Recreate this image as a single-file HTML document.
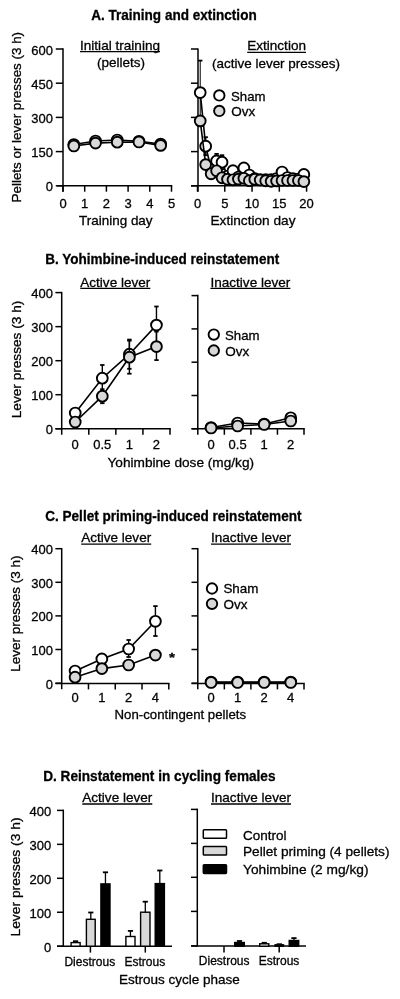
<!DOCTYPE html>
<html><head><meta charset="utf-8"><title>Figure</title>
<style>
html,body{margin:0;padding:0;background:#fff;}
svg{display:block;font-family:"Liberation Sans",sans-serif;fill:#000;}
</style></head><body>
<svg width="400" height="999" viewBox="0 0 400 999">
<defs><filter id="soft" x="0" y="0" width="400" height="999" filterUnits="userSpaceOnUse"><feGaussianBlur stdDeviation="0.6"/></filter></defs>
<rect width="400" height="999" fill="#fff"/>
<g filter="url(#soft)">
<text x="91.20" y="20.2" font-size="14.58" font-weight="bold" textLength="165.50" lengthAdjust="spacingAndGlyphs" stroke="#000" stroke-width="0.3">A. Training and extinction</text>
<text transform="translate(20.6,202.45) rotate(-90)" font-size="13.63" textLength="170.5" lengthAdjust="spacingAndGlyphs" stroke="#000" stroke-width="0.3">Pellets or lever presses (3 h)</text>
<line x1="63.0" y1="48.25" x2="63.0" y2="191.8" stroke="#000" stroke-width="1.5"/>
<line x1="55.8" y1="49.0" x2="63.0" y2="49.0" stroke="#000" stroke-width="1.5"/>
<text x="31.31" y="54.5" font-size="13.65" textLength="21.69" lengthAdjust="spacingAndGlyphs" stroke="#000" stroke-width="0.3">600</text>
<line x1="55.8" y1="83.2" x2="63.0" y2="83.2" stroke="#000" stroke-width="1.5"/>
<text x="31.31" y="88.7" font-size="13.65" textLength="21.69" lengthAdjust="spacingAndGlyphs" stroke="#000" stroke-width="0.3">450</text>
<line x1="55.8" y1="117.4" x2="63.0" y2="117.4" stroke="#000" stroke-width="1.5"/>
<text x="31.31" y="122.9" font-size="13.65" textLength="21.69" lengthAdjust="spacingAndGlyphs" stroke="#000" stroke-width="0.3">300</text>
<line x1="55.8" y1="151.6" x2="63.0" y2="151.6" stroke="#000" stroke-width="1.5"/>
<text x="31.31" y="157.1" font-size="13.65" textLength="21.69" lengthAdjust="spacingAndGlyphs" stroke="#000" stroke-width="0.3">150</text>
<line x1="55.8" y1="185.8" x2="63.0" y2="185.8" stroke="#000" stroke-width="1.5"/>
<text x="45.77" y="191.3" font-size="13.65" textLength="7.23" lengthAdjust="spacingAndGlyphs" stroke="#000" stroke-width="0.3">0</text>
<line x1="57" y1="185.8" x2="172.25" y2="185.8" stroke="#000" stroke-width="1.5"/>
<line x1="63.0" y1="185.8" x2="63.0" y2="191.7" stroke="#000" stroke-width="1.5"/>
<text x="59.38" y="208.4" font-size="13.65" textLength="7.23" lengthAdjust="spacingAndGlyphs" stroke="#000" stroke-width="0.3">0</text>
<line x1="84.7" y1="185.8" x2="84.7" y2="191.7" stroke="#000" stroke-width="1.5"/>
<text x="81.08" y="208.4" font-size="13.65" textLength="7.23" lengthAdjust="spacingAndGlyphs" stroke="#000" stroke-width="0.3">1</text>
<line x1="106.4" y1="185.8" x2="106.4" y2="191.7" stroke="#000" stroke-width="1.5"/>
<text x="102.78" y="208.4" font-size="13.65" textLength="7.23" lengthAdjust="spacingAndGlyphs" stroke="#000" stroke-width="0.3">2</text>
<line x1="128.1" y1="185.8" x2="128.1" y2="191.7" stroke="#000" stroke-width="1.5"/>
<text x="124.48" y="208.4" font-size="13.65" textLength="7.23" lengthAdjust="spacingAndGlyphs" stroke="#000" stroke-width="0.3">3</text>
<line x1="149.8" y1="185.8" x2="149.8" y2="191.7" stroke="#000" stroke-width="1.5"/>
<text x="146.18" y="208.4" font-size="13.65" textLength="7.23" lengthAdjust="spacingAndGlyphs" stroke="#000" stroke-width="0.3">4</text>
<line x1="171.5" y1="185.8" x2="171.5" y2="191.7" stroke="#000" stroke-width="1.5"/>
<text x="167.88" y="208.4" font-size="13.65" textLength="7.23" lengthAdjust="spacingAndGlyphs" stroke="#000" stroke-width="0.3">5</text>
<text x="79.00" y="225.4" font-size="13.63" textLength="73.60" lengthAdjust="spacingAndGlyphs" stroke="#000" stroke-width="0.3">Training day</text>
<text x="80.00" y="49.7" font-size="13.63" textLength="80.00" lengthAdjust="spacingAndGlyphs" stroke="#000" stroke-width="0.3">Initial training</text>
<line x1="80.0" y1="51.6" x2="160.0" y2="51.6" stroke="#000" stroke-width="1.3"/>
<text x="96.99" y="67.2" font-size="13.63" textLength="48.02" lengthAdjust="spacingAndGlyphs" stroke="#000" stroke-width="0.3">(pellets)</text>
<polyline points="73.85,144.50 95.55,141.00 117.25,140.00 138.95,141.30 160.65,144.00" fill="none" stroke="#000" stroke-width="1.6"/>
<circle cx="73.85" cy="144.50" r="5.4" fill="#fff" stroke="#000" stroke-width="1.9"/>
<circle cx="95.55" cy="141.00" r="5.4" fill="#fff" stroke="#000" stroke-width="1.9"/>
<circle cx="117.25" cy="140.00" r="5.4" fill="#fff" stroke="#000" stroke-width="1.9"/>
<circle cx="138.95" cy="141.30" r="5.4" fill="#fff" stroke="#000" stroke-width="1.9"/>
<circle cx="160.65" cy="144.00" r="5.4" fill="#fff" stroke="#000" stroke-width="1.9"/>
<polyline points="73.85,146.00 95.55,143.10 117.25,142.20 138.95,142.00 160.65,145.40" fill="none" stroke="#000" stroke-width="1.6"/>
<circle cx="73.85" cy="146.00" r="5.4" fill="#d8d8d8" stroke="#000" stroke-width="1.9"/>
<circle cx="95.55" cy="143.10" r="5.4" fill="#d8d8d8" stroke="#000" stroke-width="1.9"/>
<circle cx="117.25" cy="142.20" r="5.4" fill="#d8d8d8" stroke="#000" stroke-width="1.9"/>
<circle cx="138.95" cy="142.00" r="5.4" fill="#d8d8d8" stroke="#000" stroke-width="1.9"/>
<circle cx="160.65" cy="145.40" r="5.4" fill="#d8d8d8" stroke="#000" stroke-width="1.9"/>
<line x1="198" y1="48.45" x2="198" y2="191.8" stroke="#000" stroke-width="1.5"/>
<line x1="191" y1="49.0" x2="198" y2="49.0" stroke="#000" stroke-width="1.5"/>
<line x1="191" y1="83.2" x2="198" y2="83.2" stroke="#000" stroke-width="1.5"/>
<line x1="191" y1="117.4" x2="198" y2="117.4" stroke="#000" stroke-width="1.5"/>
<line x1="191" y1="151.6" x2="198" y2="151.6" stroke="#000" stroke-width="1.5"/>
<line x1="191" y1="185.8" x2="198" y2="185.8" stroke="#000" stroke-width="1.5"/>
<line x1="191" y1="185.8" x2="307.35" y2="185.8" stroke="#000" stroke-width="1.5"/>
<line x1="197.5" y1="185.8" x2="197.5" y2="191.7" stroke="#000" stroke-width="1.5"/>
<text x="193.88" y="208.4" font-size="13.65" textLength="7.23" lengthAdjust="spacingAndGlyphs" stroke="#000" stroke-width="0.3">0</text>
<line x1="224.77" y1="185.8" x2="224.77" y2="191.7" stroke="#000" stroke-width="1.5"/>
<text x="221.15" y="208.4" font-size="13.65" textLength="7.23" lengthAdjust="spacingAndGlyphs" stroke="#000" stroke-width="0.3">5</text>
<line x1="252.04" y1="185.8" x2="252.04" y2="191.7" stroke="#000" stroke-width="1.5"/>
<text x="244.81" y="208.4" font-size="13.65" textLength="14.46" lengthAdjust="spacingAndGlyphs" stroke="#000" stroke-width="0.3">10</text>
<line x1="279.31" y1="185.8" x2="279.31" y2="191.7" stroke="#000" stroke-width="1.5"/>
<text x="272.08" y="208.4" font-size="13.65" textLength="14.46" lengthAdjust="spacingAndGlyphs" stroke="#000" stroke-width="0.3">15</text>
<line x1="306.58" y1="185.8" x2="306.58" y2="191.7" stroke="#000" stroke-width="1.5"/>
<text x="299.35" y="208.4" font-size="13.65" textLength="14.46" lengthAdjust="spacingAndGlyphs" stroke="#000" stroke-width="0.3">20</text>
<text x="210.50" y="225.2" font-size="13.63" textLength="85.00" lengthAdjust="spacingAndGlyphs" stroke="#000" stroke-width="0.3">Extinction day</text>
<text x="247.20" y="50.4" font-size="13.63" textLength="58.80" lengthAdjust="spacingAndGlyphs" stroke="#000" stroke-width="0.3">Extinction</text>
<line x1="247.20000000000002" y1="52.3" x2="306.0" y2="52.3" stroke="#000" stroke-width="1.3"/>
<text x="212.00" y="67.6" font-size="13.63" textLength="128.00" lengthAdjust="spacingAndGlyphs" stroke="#000" stroke-width="0.3">(active lever presses)</text>
<line x1="200.2275" y1="60.599999999999994" x2="200.2275" y2="124.6" stroke="#000" stroke-width="1.0"/>
<line x1="198.0275" y1="60.599999999999994" x2="202.42749999999998" y2="60.599999999999994" stroke="#000" stroke-width="1.8"/>
<line x1="198.0275" y1="124.6" x2="202.42749999999998" y2="124.6" stroke="#000" stroke-width="1.8"/>
<line x1="205.6825" y1="137.2" x2="205.6825" y2="155.2" stroke="#000" stroke-width="1.4"/>
<line x1="203.48250000000002" y1="137.2" x2="207.8825" y2="137.2" stroke="#000" stroke-width="1.8"/>
<line x1="203.48250000000002" y1="155.2" x2="207.8825" y2="155.2" stroke="#000" stroke-width="1.8"/>
<line x1="216.5925" y1="153.9" x2="216.5925" y2="167.9" stroke="#000" stroke-width="1.4"/>
<line x1="214.3925" y1="153.9" x2="218.7925" y2="153.9" stroke="#000" stroke-width="1.8"/>
<line x1="214.3925" y1="167.9" x2="218.7925" y2="167.9" stroke="#000" stroke-width="1.8"/>
<line x1="222.0475" y1="155.2" x2="222.0475" y2="169.2" stroke="#000" stroke-width="1.4"/>
<line x1="219.84750000000003" y1="155.2" x2="224.2475" y2="155.2" stroke="#000" stroke-width="1.8"/>
<line x1="219.84750000000003" y1="169.2" x2="224.2475" y2="169.2" stroke="#000" stroke-width="1.8"/>
<polyline points="200.23,92.60 205.68,146.20 211.14,169.00 216.59,160.90 222.05,162.20 227.50,176.00 232.96,170.70 238.41,177.00 243.87,167.90 249.32,175.00 254.78,178.50 260.23,179.50 265.69,179.50 271.14,179.50 276.60,178.50 282.05,172.00 287.51,177.50 292.96,178.50 298.42,179.00 303.87,174.40" fill="none" stroke="#000" stroke-width="1.6"/>
<circle cx="200.23" cy="92.60" r="5.4" fill="#fff" stroke="#000" stroke-width="1.9"/>
<circle cx="205.68" cy="146.20" r="5.4" fill="#fff" stroke="#000" stroke-width="1.9"/>
<circle cx="211.14" cy="169.00" r="5.4" fill="#fff" stroke="#000" stroke-width="1.9"/>
<circle cx="216.59" cy="160.90" r="5.4" fill="#fff" stroke="#000" stroke-width="1.9"/>
<circle cx="222.05" cy="162.20" r="5.4" fill="#fff" stroke="#000" stroke-width="1.9"/>
<circle cx="227.50" cy="176.00" r="5.4" fill="#fff" stroke="#000" stroke-width="1.9"/>
<circle cx="232.96" cy="170.70" r="5.4" fill="#fff" stroke="#000" stroke-width="1.9"/>
<circle cx="238.41" cy="177.00" r="5.4" fill="#fff" stroke="#000" stroke-width="1.9"/>
<circle cx="243.87" cy="167.90" r="5.4" fill="#fff" stroke="#000" stroke-width="1.9"/>
<circle cx="249.32" cy="175.00" r="5.4" fill="#fff" stroke="#000" stroke-width="1.9"/>
<circle cx="254.78" cy="178.50" r="5.4" fill="#fff" stroke="#000" stroke-width="1.9"/>
<circle cx="260.23" cy="179.50" r="5.4" fill="#fff" stroke="#000" stroke-width="1.9"/>
<circle cx="265.69" cy="179.50" r="5.4" fill="#fff" stroke="#000" stroke-width="1.9"/>
<circle cx="271.14" cy="179.50" r="5.4" fill="#fff" stroke="#000" stroke-width="1.9"/>
<circle cx="276.60" cy="178.50" r="5.4" fill="#fff" stroke="#000" stroke-width="1.9"/>
<circle cx="282.05" cy="172.00" r="5.4" fill="#fff" stroke="#000" stroke-width="1.9"/>
<circle cx="287.51" cy="177.50" r="5.4" fill="#fff" stroke="#000" stroke-width="1.9"/>
<circle cx="292.96" cy="178.50" r="5.4" fill="#fff" stroke="#000" stroke-width="1.9"/>
<circle cx="298.42" cy="179.00" r="5.4" fill="#fff" stroke="#000" stroke-width="1.9"/>
<circle cx="303.87" cy="174.40" r="5.4" fill="#fff" stroke="#000" stroke-width="1.9"/>
<polyline points="200.23,120.90 205.68,164.60 211.14,173.80 216.59,170.80 222.05,177.80 227.50,179.30 232.96,179.80 238.41,179.10 243.87,178.30 249.32,180.70 254.78,179.30 260.23,180.00 265.69,180.80 271.14,181.30 276.60,180.90 282.05,180.50 287.51,180.50 292.96,180.50 298.42,180.50 303.87,181.60" fill="none" stroke="#000" stroke-width="1.6"/>
<circle cx="200.23" cy="120.90" r="5.4" fill="#d8d8d8" stroke="#000" stroke-width="1.9"/>
<circle cx="205.68" cy="164.60" r="5.4" fill="#d8d8d8" stroke="#000" stroke-width="1.9"/>
<circle cx="211.14" cy="173.80" r="5.4" fill="#d8d8d8" stroke="#000" stroke-width="1.9"/>
<circle cx="216.59" cy="170.80" r="5.4" fill="#d8d8d8" stroke="#000" stroke-width="1.9"/>
<circle cx="222.05" cy="177.80" r="5.4" fill="#d8d8d8" stroke="#000" stroke-width="1.9"/>
<circle cx="227.50" cy="179.30" r="5.4" fill="#d8d8d8" stroke="#000" stroke-width="1.9"/>
<circle cx="232.96" cy="179.80" r="5.4" fill="#d8d8d8" stroke="#000" stroke-width="1.9"/>
<circle cx="238.41" cy="179.10" r="5.4" fill="#d8d8d8" stroke="#000" stroke-width="1.9"/>
<circle cx="243.87" cy="178.30" r="5.4" fill="#d8d8d8" stroke="#000" stroke-width="1.9"/>
<circle cx="249.32" cy="180.70" r="5.4" fill="#d8d8d8" stroke="#000" stroke-width="1.9"/>
<circle cx="254.78" cy="179.30" r="5.4" fill="#d8d8d8" stroke="#000" stroke-width="1.9"/>
<circle cx="260.23" cy="180.00" r="5.4" fill="#d8d8d8" stroke="#000" stroke-width="1.9"/>
<circle cx="265.69" cy="180.80" r="5.4" fill="#d8d8d8" stroke="#000" stroke-width="1.9"/>
<circle cx="271.14" cy="181.30" r="5.4" fill="#d8d8d8" stroke="#000" stroke-width="1.9"/>
<circle cx="276.60" cy="180.90" r="5.4" fill="#d8d8d8" stroke="#000" stroke-width="1.9"/>
<circle cx="282.05" cy="180.50" r="5.4" fill="#d8d8d8" stroke="#000" stroke-width="1.9"/>
<circle cx="287.51" cy="180.50" r="5.4" fill="#d8d8d8" stroke="#000" stroke-width="1.9"/>
<circle cx="292.96" cy="180.50" r="5.4" fill="#d8d8d8" stroke="#000" stroke-width="1.9"/>
<circle cx="298.42" cy="180.50" r="5.4" fill="#d8d8d8" stroke="#000" stroke-width="1.9"/>
<circle cx="303.87" cy="181.60" r="5.4" fill="#d8d8d8" stroke="#000" stroke-width="1.9"/>
<circle cx="219.30" cy="95.40" r="5.2" fill="#fff" stroke="#000" stroke-width="1.9"/>
<text x="231.00" y="100.6" font-size="13.63" textLength="34.50" lengthAdjust="spacingAndGlyphs" stroke="#000" stroke-width="0.3">Sham</text>
<circle cx="219.30" cy="110.90" r="5.2" fill="#d8d8d8" stroke="#000" stroke-width="1.9"/>
<text x="231.30" y="116" font-size="13.63" textLength="24.00" lengthAdjust="spacingAndGlyphs" stroke="#000" stroke-width="0.3">Ovx</text>
<text x="45.20" y="264.4" font-size="14.58" font-weight="bold" textLength="234.00" lengthAdjust="spacingAndGlyphs" stroke="#000" stroke-width="0.3">B. Yohimbine-induced reinstatement</text>
<text transform="translate(21.2,418.3) rotate(-90)" font-size="13.63" textLength="117.6" lengthAdjust="spacingAndGlyphs" stroke="#000" stroke-width="0.3">Lever presses (3 h)</text>
<line x1="61.7" y1="291.85" x2="61.7" y2="434.75" stroke="#000" stroke-width="1.5"/>
<line x1="55.400000000000006" y1="292.6" x2="61.7" y2="292.6" stroke="#000" stroke-width="1.5"/>
<text x="31.21" y="298.1" font-size="13.65" textLength="21.69" lengthAdjust="spacingAndGlyphs" stroke="#000" stroke-width="0.3">400</text>
<line x1="55.400000000000006" y1="326.65" x2="61.7" y2="326.65" stroke="#000" stroke-width="1.5"/>
<text x="31.21" y="332.15" font-size="13.65" textLength="21.69" lengthAdjust="spacingAndGlyphs" stroke="#000" stroke-width="0.3">300</text>
<line x1="55.400000000000006" y1="360.7" x2="61.7" y2="360.7" stroke="#000" stroke-width="1.5"/>
<text x="31.21" y="366.2" font-size="13.65" textLength="21.69" lengthAdjust="spacingAndGlyphs" stroke="#000" stroke-width="0.3">200</text>
<line x1="55.400000000000006" y1="394.7" x2="61.7" y2="394.7" stroke="#000" stroke-width="1.5"/>
<text x="31.21" y="400.2" font-size="13.65" textLength="21.69" lengthAdjust="spacingAndGlyphs" stroke="#000" stroke-width="0.3">100</text>
<line x1="55.400000000000006" y1="428.75" x2="61.7" y2="428.75" stroke="#000" stroke-width="1.5"/>
<text x="45.67" y="434.25" font-size="13.65" textLength="7.23" lengthAdjust="spacingAndGlyphs" stroke="#000" stroke-width="0.3">0</text>
<line x1="55.400000000000006" y1="428.75" x2="170.75" y2="428.75" stroke="#000" stroke-width="1.5"/>
<line x1="88.775" y1="428.75" x2="88.775" y2="434.75" stroke="#000" stroke-width="1.5"/>
<line x1="115.85" y1="428.75" x2="115.85" y2="434.75" stroke="#000" stroke-width="1.5"/>
<line x1="142.925" y1="428.75" x2="142.925" y2="434.75" stroke="#000" stroke-width="1.5"/>
<line x1="170.0" y1="428.75" x2="170.0" y2="434.75" stroke="#000" stroke-width="1.5"/>
<text x="71.62" y="449.2" font-size="13.65" textLength="7.23" lengthAdjust="spacingAndGlyphs" stroke="#000" stroke-width="0.3">0</text>
<text x="93.28" y="449.2" font-size="13.65" textLength="18.07" lengthAdjust="spacingAndGlyphs" stroke="#000" stroke-width="0.3">0.5</text>
<text x="125.77" y="449.2" font-size="13.65" textLength="7.23" lengthAdjust="spacingAndGlyphs" stroke="#000" stroke-width="0.3">1</text>
<text x="152.85" y="449.2" font-size="13.65" textLength="7.23" lengthAdjust="spacingAndGlyphs" stroke="#000" stroke-width="0.3">2</text>
<text x="107.50" y="467.1" font-size="13.63" textLength="146.50" lengthAdjust="spacingAndGlyphs" stroke="#000" stroke-width="0.3">Yohimbine dose (mg/kg)</text>
<text x="80.30" y="286.5" font-size="13.63" textLength="70.00" lengthAdjust="spacingAndGlyphs" stroke="#000" stroke-width="0.3">Active lever</text>
<line x1="80.3" y1="288.4" x2="150.3" y2="288.4" stroke="#000" stroke-width="1.3"/>
<text x="210.40" y="286.5" font-size="13.63" textLength="80.00" lengthAdjust="spacingAndGlyphs" stroke="#000" stroke-width="0.3">Inactive lever</text>
<line x1="210.4" y1="288.4" x2="290.4" y2="288.4" stroke="#000" stroke-width="1.3"/>
<line x1="102.3125" y1="365.0" x2="102.3125" y2="391.4" stroke="#000" stroke-width="1.4"/>
<line x1="100.1125" y1="365.0" x2="104.5125" y2="365.0" stroke="#000" stroke-width="1.8"/>
<line x1="100.1125" y1="391.4" x2="104.5125" y2="391.4" stroke="#000" stroke-width="1.8"/>
<line x1="129.3875" y1="339.59999999999997" x2="129.3875" y2="368.8" stroke="#000" stroke-width="1.4"/>
<line x1="127.18749999999999" y1="339.59999999999997" x2="131.58749999999998" y2="339.59999999999997" stroke="#000" stroke-width="1.8"/>
<line x1="127.18749999999999" y1="368.8" x2="131.58749999999998" y2="368.8" stroke="#000" stroke-width="1.8"/>
<line x1="156.4625" y1="306.5" x2="156.4625" y2="343.70000000000005" stroke="#000" stroke-width="1.4"/>
<line x1="154.26250000000002" y1="306.5" x2="158.6625" y2="306.5" stroke="#000" stroke-width="1.8"/>
<line x1="154.26250000000002" y1="343.70000000000005" x2="158.6625" y2="343.70000000000005" stroke="#000" stroke-width="1.8"/>
<polyline points="75.24,413.00 102.31,378.20 129.39,354.20 156.46,325.10" fill="none" stroke="#000" stroke-width="1.6"/>
<circle cx="75.24" cy="413.00" r="5.4" fill="#fff" stroke="#000" stroke-width="1.9"/>
<circle cx="102.31" cy="378.20" r="5.4" fill="#fff" stroke="#000" stroke-width="1.9"/>
<circle cx="129.39" cy="354.20" r="5.4" fill="#fff" stroke="#000" stroke-width="1.9"/>
<circle cx="156.46" cy="325.10" r="5.4" fill="#fff" stroke="#000" stroke-width="1.9"/>
<line x1="102.3125" y1="389.2" x2="102.3125" y2="403.2" stroke="#000" stroke-width="1.4"/>
<line x1="100.1125" y1="389.2" x2="104.5125" y2="389.2" stroke="#000" stroke-width="1.8"/>
<line x1="100.1125" y1="403.2" x2="104.5125" y2="403.2" stroke="#000" stroke-width="1.8"/>
<line x1="129.3875" y1="340.7" x2="129.3875" y2="373.7" stroke="#000" stroke-width="1.4"/>
<line x1="127.18749999999999" y1="340.7" x2="131.58749999999998" y2="340.7" stroke="#000" stroke-width="1.8"/>
<line x1="127.18749999999999" y1="373.7" x2="131.58749999999998" y2="373.7" stroke="#000" stroke-width="1.8"/>
<line x1="156.4625" y1="331.6" x2="156.4625" y2="360.1" stroke="#000" stroke-width="1.4"/>
<line x1="154.26250000000002" y1="331.6" x2="158.6625" y2="331.6" stroke="#000" stroke-width="1.8"/>
<line x1="154.26250000000002" y1="360.1" x2="158.6625" y2="360.1" stroke="#000" stroke-width="1.8"/>
<polyline points="75.24,422.00 102.31,396.20 129.39,357.20 156.46,346.60" fill="none" stroke="#000" stroke-width="1.6"/>
<circle cx="75.24" cy="422.00" r="5.4" fill="#d8d8d8" stroke="#000" stroke-width="1.9"/>
<circle cx="102.31" cy="396.20" r="5.4" fill="#d8d8d8" stroke="#000" stroke-width="1.9"/>
<circle cx="129.39" cy="357.20" r="5.4" fill="#d8d8d8" stroke="#000" stroke-width="1.9"/>
<circle cx="156.46" cy="346.60" r="5.4" fill="#d8d8d8" stroke="#000" stroke-width="1.9"/>
<line x1="197.8" y1="294.85" x2="197.8" y2="434.75" stroke="#000" stroke-width="1.5"/>
<line x1="191.5" y1="295.6" x2="197.8" y2="295.6" stroke="#000" stroke-width="1.5"/>
<line x1="191.5" y1="328.9" x2="197.8" y2="328.9" stroke="#000" stroke-width="1.5"/>
<line x1="191.5" y1="362.2" x2="197.8" y2="362.2" stroke="#000" stroke-width="1.5"/>
<line x1="191.5" y1="395.5" x2="197.8" y2="395.5" stroke="#000" stroke-width="1.5"/>
<line x1="191.5" y1="428.75" x2="197.8" y2="428.75" stroke="#000" stroke-width="1.5"/>
<line x1="191.5" y1="428.75" x2="304.75" y2="428.75" stroke="#000" stroke-width="1.5"/>
<line x1="224.35000000000002" y1="428.75" x2="224.35000000000002" y2="434.75" stroke="#000" stroke-width="1.5"/>
<line x1="250.9" y1="428.75" x2="250.9" y2="434.75" stroke="#000" stroke-width="1.5"/>
<line x1="277.45" y1="428.75" x2="277.45" y2="434.75" stroke="#000" stroke-width="1.5"/>
<line x1="304.0" y1="428.75" x2="304.0" y2="434.75" stroke="#000" stroke-width="1.5"/>
<text x="207.46" y="449.2" font-size="13.65" textLength="7.23" lengthAdjust="spacingAndGlyphs" stroke="#000" stroke-width="0.3">0</text>
<text x="228.59" y="449.2" font-size="13.65" textLength="18.07" lengthAdjust="spacingAndGlyphs" stroke="#000" stroke-width="0.3">0.5</text>
<text x="260.56" y="449.2" font-size="13.65" textLength="7.23" lengthAdjust="spacingAndGlyphs" stroke="#000" stroke-width="0.3">1</text>
<text x="287.11" y="449.2" font-size="13.65" textLength="7.23" lengthAdjust="spacingAndGlyphs" stroke="#000" stroke-width="0.3">2</text>
<polyline points="211.08,427.50 237.62,423.00 264.18,424.00 290.73,417.80" fill="none" stroke="#000" stroke-width="1.6"/>
<circle cx="211.08" cy="427.50" r="5.4" fill="#fff" stroke="#000" stroke-width="1.9"/>
<circle cx="237.62" cy="423.00" r="5.4" fill="#fff" stroke="#000" stroke-width="1.9"/>
<circle cx="264.18" cy="424.00" r="5.4" fill="#fff" stroke="#000" stroke-width="1.9"/>
<circle cx="290.73" cy="417.80" r="5.4" fill="#fff" stroke="#000" stroke-width="1.9"/>
<polyline points="211.08,428.00 237.62,426.00 264.18,424.50 290.73,421.00" fill="none" stroke="#000" stroke-width="1.6"/>
<circle cx="211.08" cy="428.00" r="5.4" fill="#d8d8d8" stroke="#000" stroke-width="1.9"/>
<circle cx="237.62" cy="426.00" r="5.4" fill="#d8d8d8" stroke="#000" stroke-width="1.9"/>
<circle cx="264.18" cy="424.50" r="5.4" fill="#d8d8d8" stroke="#000" stroke-width="1.9"/>
<circle cx="290.73" cy="421.00" r="5.4" fill="#d8d8d8" stroke="#000" stroke-width="1.9"/>
<circle cx="213.80" cy="334.60" r="5.2" fill="#fff" stroke="#000" stroke-width="1.9"/>
<text x="225.00" y="340.2" font-size="13.63" textLength="34.50" lengthAdjust="spacingAndGlyphs" stroke="#000" stroke-width="0.3">Sham</text>
<circle cx="213.80" cy="350.50" r="5.2" fill="#d8d8d8" stroke="#000" stroke-width="1.9"/>
<text x="225.20" y="356" font-size="13.63" textLength="24.00" lengthAdjust="spacingAndGlyphs" stroke="#000" stroke-width="0.3">Ovx</text>
<text x="45.20" y="520.8" font-size="14.58" font-weight="bold" textLength="256.30" lengthAdjust="spacingAndGlyphs" stroke="#000" stroke-width="0.3">C. Pellet priming-induced reinstatement</text>
<text transform="translate(20.0,671.8000000000001) rotate(-90)" font-size="13.63" textLength="116.4" lengthAdjust="spacingAndGlyphs" stroke="#000" stroke-width="0.3">Lever presses (3 h)</text>
<line x1="61.7" y1="547.95" x2="61.7" y2="689.2" stroke="#000" stroke-width="1.5"/>
<line x1="55.400000000000006" y1="548.7" x2="61.7" y2="548.7" stroke="#000" stroke-width="1.5"/>
<text x="31.21" y="554.2" font-size="13.65" textLength="21.69" lengthAdjust="spacingAndGlyphs" stroke="#000" stroke-width="0.3">400</text>
<line x1="55.400000000000006" y1="582.3" x2="61.7" y2="582.3" stroke="#000" stroke-width="1.5"/>
<text x="31.21" y="587.8" font-size="13.65" textLength="21.69" lengthAdjust="spacingAndGlyphs" stroke="#000" stroke-width="0.3">300</text>
<line x1="55.400000000000006" y1="615.9" x2="61.7" y2="615.9" stroke="#000" stroke-width="1.5"/>
<text x="31.21" y="621.4" font-size="13.65" textLength="21.69" lengthAdjust="spacingAndGlyphs" stroke="#000" stroke-width="0.3">200</text>
<line x1="55.400000000000006" y1="649.5" x2="61.7" y2="649.5" stroke="#000" stroke-width="1.5"/>
<text x="31.21" y="655.0" font-size="13.65" textLength="21.69" lengthAdjust="spacingAndGlyphs" stroke="#000" stroke-width="0.3">100</text>
<line x1="55.400000000000006" y1="683.2" x2="61.7" y2="683.2" stroke="#000" stroke-width="1.5"/>
<text x="45.67" y="688.7" font-size="13.65" textLength="7.23" lengthAdjust="spacingAndGlyphs" stroke="#000" stroke-width="0.3">0</text>
<line x1="55.400000000000006" y1="683.4" x2="169.55" y2="683.4" stroke="#000" stroke-width="1.5"/>
<line x1="88.47500000000001" y1="683.4" x2="88.47500000000001" y2="689.4" stroke="#000" stroke-width="1.5"/>
<line x1="115.25" y1="683.4" x2="115.25" y2="689.4" stroke="#000" stroke-width="1.5"/>
<line x1="142.025" y1="683.4" x2="142.025" y2="689.4" stroke="#000" stroke-width="1.5"/>
<line x1="168.8" y1="683.4" x2="168.8" y2="689.4" stroke="#000" stroke-width="1.5"/>
<text x="71.47" y="701.9" font-size="13.65" textLength="7.23" lengthAdjust="spacingAndGlyphs" stroke="#000" stroke-width="0.3">0</text>
<text x="98.25" y="701.9" font-size="13.65" textLength="7.23" lengthAdjust="spacingAndGlyphs" stroke="#000" stroke-width="0.3">1</text>
<text x="125.02" y="701.9" font-size="13.65" textLength="7.23" lengthAdjust="spacingAndGlyphs" stroke="#000" stroke-width="0.3">2</text>
<text x="151.80" y="701.9" font-size="13.65" textLength="7.23" lengthAdjust="spacingAndGlyphs" stroke="#000" stroke-width="0.3">4</text>
<text x="114.55" y="718.5" font-size="13.63" textLength="131.50" lengthAdjust="spacingAndGlyphs" stroke="#000" stroke-width="0.3">Non-contingent pellets</text>
<text x="81.20" y="542.2" font-size="13.63" textLength="70.00" lengthAdjust="spacingAndGlyphs" stroke="#000" stroke-width="0.3">Active lever</text>
<line x1="81.2" y1="544.1" x2="151.2" y2="544.1" stroke="#000" stroke-width="1.3"/>
<text x="211.00" y="542.2" font-size="13.63" textLength="80.00" lengthAdjust="spacingAndGlyphs" stroke="#000" stroke-width="0.3">Inactive lever</text>
<line x1="211.0" y1="544.1" x2="291.0" y2="544.1" stroke="#000" stroke-width="1.3"/>
<line x1="128.6375" y1="640" x2="128.6375" y2="657" stroke="#000" stroke-width="1.4"/>
<line x1="126.43749999999999" y1="640" x2="130.83749999999998" y2="640" stroke="#000" stroke-width="1.8"/>
<line x1="126.43749999999999" y1="657" x2="130.83749999999998" y2="657" stroke="#000" stroke-width="1.8"/>
<line x1="155.41250000000002" y1="606.0999999999999" x2="155.41250000000002" y2="636.0" stroke="#000" stroke-width="1.4"/>
<line x1="153.21250000000003" y1="606.0999999999999" x2="157.6125" y2="606.0999999999999" stroke="#000" stroke-width="1.8"/>
<line x1="153.21250000000003" y1="636.0" x2="157.6125" y2="636.0" stroke="#000" stroke-width="1.8"/>
<polyline points="75.09,671.00 101.86,658.90 128.64,649.00 155.41,621.30" fill="none" stroke="#000" stroke-width="1.6"/>
<circle cx="75.09" cy="671.00" r="5.4" fill="#fff" stroke="#000" stroke-width="1.9"/>
<circle cx="101.86" cy="658.90" r="5.4" fill="#fff" stroke="#000" stroke-width="1.9"/>
<circle cx="128.64" cy="649.00" r="5.4" fill="#fff" stroke="#000" stroke-width="1.9"/>
<circle cx="155.41" cy="621.30" r="5.4" fill="#fff" stroke="#000" stroke-width="1.9"/>
<polyline points="75.09,677.20 101.86,668.60 128.64,665.00 155.41,655.10" fill="none" stroke="#000" stroke-width="1.6"/>
<circle cx="75.09" cy="677.20" r="5.4" fill="#d8d8d8" stroke="#000" stroke-width="1.9"/>
<circle cx="101.86" cy="668.60" r="5.4" fill="#d8d8d8" stroke="#000" stroke-width="1.9"/>
<circle cx="128.64" cy="665.00" r="5.4" fill="#d8d8d8" stroke="#000" stroke-width="1.9"/>
<circle cx="155.41" cy="655.10" r="5.4" fill="#d8d8d8" stroke="#000" stroke-width="1.9"/>
<text x="169.00" y="662.0" font-size="13.30" font-weight="bold" textLength="6.00" lengthAdjust="spacingAndGlyphs" stroke="#000" stroke-width="0.3">*</text>
<line x1="197.8" y1="547.95" x2="197.8" y2="689.2" stroke="#000" stroke-width="1.5"/>
<line x1="191.5" y1="548.7" x2="197.8" y2="548.7" stroke="#000" stroke-width="1.5"/>
<line x1="191.5" y1="582.3" x2="197.8" y2="582.3" stroke="#000" stroke-width="1.5"/>
<line x1="191.5" y1="615.9" x2="197.8" y2="615.9" stroke="#000" stroke-width="1.5"/>
<line x1="191.5" y1="649.5" x2="197.8" y2="649.5" stroke="#000" stroke-width="1.5"/>
<line x1="191.5" y1="683.2" x2="197.8" y2="683.2" stroke="#000" stroke-width="1.5"/>
<line x1="191.5" y1="683.4" x2="304.75" y2="683.4" stroke="#000" stroke-width="1.5"/>
<line x1="224.35000000000002" y1="683.4" x2="224.35000000000002" y2="689.4" stroke="#000" stroke-width="1.5"/>
<line x1="250.9" y1="683.4" x2="250.9" y2="689.4" stroke="#000" stroke-width="1.5"/>
<line x1="277.45" y1="683.4" x2="277.45" y2="689.4" stroke="#000" stroke-width="1.5"/>
<line x1="304.0" y1="683.4" x2="304.0" y2="689.4" stroke="#000" stroke-width="1.5"/>
<text x="207.46" y="701.9" font-size="13.65" textLength="7.23" lengthAdjust="spacingAndGlyphs" stroke="#000" stroke-width="0.3">0</text>
<text x="234.01" y="701.9" font-size="13.65" textLength="7.23" lengthAdjust="spacingAndGlyphs" stroke="#000" stroke-width="0.3">1</text>
<text x="260.56" y="701.9" font-size="13.65" textLength="7.23" lengthAdjust="spacingAndGlyphs" stroke="#000" stroke-width="0.3">2</text>
<text x="287.11" y="701.9" font-size="13.65" textLength="7.23" lengthAdjust="spacingAndGlyphs" stroke="#000" stroke-width="0.3">4</text>
<polyline points="211.08,682.00 237.62,682.00 264.18,682.00 290.73,682.00" fill="none" stroke="#000" stroke-width="1.6"/>
<circle cx="211.08" cy="682.00" r="5.4" fill="#fff" stroke="#000" stroke-width="1.9"/>
<circle cx="237.62" cy="682.00" r="5.4" fill="#fff" stroke="#000" stroke-width="1.9"/>
<circle cx="264.18" cy="682.00" r="5.4" fill="#fff" stroke="#000" stroke-width="1.9"/>
<circle cx="290.73" cy="682.00" r="5.4" fill="#fff" stroke="#000" stroke-width="1.9"/>
<polyline points="211.08,682.50 237.62,682.50 264.18,682.50 290.73,682.50" fill="none" stroke="#000" stroke-width="1.6"/>
<circle cx="211.08" cy="682.50" r="5.4" fill="#d8d8d8" stroke="#000" stroke-width="1.9"/>
<circle cx="237.62" cy="682.50" r="5.4" fill="#d8d8d8" stroke="#000" stroke-width="1.9"/>
<circle cx="264.18" cy="682.50" r="5.4" fill="#d8d8d8" stroke="#000" stroke-width="1.9"/>
<circle cx="290.73" cy="682.50" r="5.4" fill="#d8d8d8" stroke="#000" stroke-width="1.9"/>
<circle cx="212.00" cy="588.50" r="5.2" fill="#fff" stroke="#000" stroke-width="1.9"/>
<text x="223.40" y="593.3" font-size="13.63" textLength="35.00" lengthAdjust="spacingAndGlyphs" stroke="#000" stroke-width="0.3">Sham</text>
<circle cx="212.00" cy="603.80" r="5.2" fill="#d8d8d8" stroke="#000" stroke-width="1.9"/>
<text x="223.50" y="608.5" font-size="13.63" textLength="24.00" lengthAdjust="spacingAndGlyphs" stroke="#000" stroke-width="0.3">Ovx</text>
<text x="43.20" y="780.8" font-size="14.58" font-weight="bold" textLength="232.30" lengthAdjust="spacingAndGlyphs" stroke="#000" stroke-width="0.3">D. Reinstatement in cycling females</text>
<text transform="translate(20.0,936.5) rotate(-90)" font-size="13.63" textLength="119" lengthAdjust="spacingAndGlyphs" stroke="#000" stroke-width="0.3">Lever presses (3 h)</text>
<line x1="63.3" y1="809.65" x2="63.3" y2="946.95" stroke="#000" stroke-width="1.5"/>
<line x1="57.0" y1="810.4" x2="63.3" y2="810.4" stroke="#000" stroke-width="1.5"/>
<text x="29.61" y="815.9" font-size="13.65" textLength="21.69" lengthAdjust="spacingAndGlyphs" stroke="#000" stroke-width="0.3">400</text>
<line x1="57.0" y1="844.35" x2="63.3" y2="844.35" stroke="#000" stroke-width="1.5"/>
<text x="29.61" y="849.85" font-size="13.65" textLength="21.69" lengthAdjust="spacingAndGlyphs" stroke="#000" stroke-width="0.3">300</text>
<line x1="57.0" y1="878.3" x2="63.3" y2="878.3" stroke="#000" stroke-width="1.5"/>
<text x="29.61" y="883.8" font-size="13.65" textLength="21.69" lengthAdjust="spacingAndGlyphs" stroke="#000" stroke-width="0.3">200</text>
<line x1="57.0" y1="912.25" x2="63.3" y2="912.25" stroke="#000" stroke-width="1.5"/>
<text x="29.61" y="917.75" font-size="13.65" textLength="21.69" lengthAdjust="spacingAndGlyphs" stroke="#000" stroke-width="0.3">100</text>
<line x1="57.0" y1="946.2" x2="63.3" y2="946.2" stroke="#000" stroke-width="1.5"/>
<text x="44.07" y="951.7" font-size="13.65" textLength="7.23" lengthAdjust="spacingAndGlyphs" stroke="#000" stroke-width="0.3">0</text>
<line x1="57" y1="946.2" x2="172" y2="946.2" stroke="#000" stroke-width="1.5"/>
<line x1="90.4" y1="946.2" x2="90.4" y2="952.6" stroke="#000" stroke-width="1.5"/>
<line x1="145.3" y1="946.2" x2="145.3" y2="952.6" stroke="#000" stroke-width="1.5"/>
<text x="64.46" y="965.7" font-size="12.24" textLength="50.69" lengthAdjust="spacingAndGlyphs" stroke="#000" stroke-width="0.3">Diestrous</text>
<text x="124.46" y="965.7" font-size="12.24" textLength="40.68" lengthAdjust="spacingAndGlyphs" stroke="#000" stroke-width="0.3">Estrous</text>
<text x="118.99" y="984.1" font-size="13.63" textLength="120.81" lengthAdjust="spacingAndGlyphs" stroke="#000" stroke-width="0.3">Estrous cycle phase</text>
<text x="82.30" y="802.1" font-size="13.63" textLength="70.00" lengthAdjust="spacingAndGlyphs" stroke="#000" stroke-width="0.3">Active lever</text>
<line x1="82.3" y1="804.0" x2="152.3" y2="804.0" stroke="#000" stroke-width="1.3"/>
<text x="211.00" y="802.1" font-size="13.63" textLength="80.00" lengthAdjust="spacingAndGlyphs" stroke="#000" stroke-width="0.3">Inactive lever</text>
<line x1="211.0" y1="804.0" x2="291.0" y2="804.0" stroke="#000" stroke-width="1.3"/>
<line x1="75.6" y1="941.2" x2="75.6" y2="942.6" stroke="#000" stroke-width="1.3"/>
<line x1="73.0" y1="941.2" x2="78.19999999999999" y2="941.2" stroke="#000" stroke-width="1.8"/>
<rect x="71.10" y="942.6" width="9.00" height="3.60" fill="#fff" stroke="#000" stroke-width="1.4"/>
<line x1="90.80000000000001" y1="912.5" x2="90.80000000000001" y2="919.3" stroke="#000" stroke-width="1.3"/>
<line x1="88.20000000000002" y1="912.5" x2="93.4" y2="912.5" stroke="#000" stroke-width="1.8"/>
<rect x="86.40" y="919.3" width="8.80" height="26.90" fill="#d8d8d8" stroke="#000" stroke-width="1.4"/>
<line x1="105.45" y1="872.3" x2="105.45" y2="883.9" stroke="#000" stroke-width="1.3"/>
<line x1="102.85000000000001" y1="872.3" x2="108.05" y2="872.3" stroke="#000" stroke-width="1.8"/>
<rect x="100.90" y="883.9" width="9.10" height="62.30" fill="#000" stroke="#000" stroke-width="1.4"/>
<line x1="130.45" y1="930.9" x2="130.45" y2="936.5" stroke="#000" stroke-width="1.3"/>
<line x1="127.85" y1="930.9" x2="133.04999999999998" y2="930.9" stroke="#000" stroke-width="1.8"/>
<rect x="125.90" y="936.5" width="9.10" height="9.70" fill="#fff" stroke="#000" stroke-width="1.4"/>
<line x1="145.3" y1="901.7" x2="145.3" y2="912.2" stroke="#000" stroke-width="1.3"/>
<line x1="142.70000000000002" y1="901.7" x2="147.9" y2="901.7" stroke="#000" stroke-width="1.8"/>
<rect x="140.60" y="912.2" width="9.40" height="34.00" fill="#d8d8d8" stroke="#000" stroke-width="1.4"/>
<line x1="159.8" y1="870.5" x2="159.8" y2="883.6" stroke="#000" stroke-width="1.3"/>
<line x1="157.20000000000002" y1="870.5" x2="162.4" y2="870.5" stroke="#000" stroke-width="1.8"/>
<rect x="155.20" y="883.6" width="9.20" height="62.60" fill="#000" stroke="#000" stroke-width="1.4"/>
<line x1="197.3" y1="808.65" x2="197.3" y2="946.65" stroke="#000" stroke-width="1.5"/>
<line x1="191.0" y1="809.4" x2="197.3" y2="809.4" stroke="#000" stroke-width="1.5"/>
<line x1="191.0" y1="843.4" x2="197.3" y2="843.4" stroke="#000" stroke-width="1.5"/>
<line x1="191.0" y1="877.3" x2="197.3" y2="877.3" stroke="#000" stroke-width="1.5"/>
<line x1="191.0" y1="911.4" x2="197.3" y2="911.4" stroke="#000" stroke-width="1.5"/>
<line x1="191.0" y1="945.9" x2="197.3" y2="945.9" stroke="#000" stroke-width="1.5"/>
<line x1="191.2" y1="945.9" x2="306" y2="945.9" stroke="#000" stroke-width="1.5"/>
<line x1="224" y1="946.2" x2="224" y2="952.4" stroke="#000" stroke-width="1.5"/>
<line x1="279.2" y1="946.2" x2="279.2" y2="952.4" stroke="#000" stroke-width="1.5"/>
<text x="198.86" y="964.9" font-size="12.24" textLength="50.69" lengthAdjust="spacingAndGlyphs" stroke="#000" stroke-width="0.3">Diestrous</text>
<text x="258.66" y="964.9" font-size="12.24" textLength="40.68" lengthAdjust="spacingAndGlyphs" stroke="#000" stroke-width="0.3">Estrous</text>
<line x1="239.5" y1="941" x2="239.5" y2="942.5" stroke="#000" stroke-width="1.3"/>
<line x1="236.9" y1="941" x2="242.1" y2="941" stroke="#000" stroke-width="1.8"/>
<rect x="234.70" y="942.5" width="9.60" height="3.70" fill="#000" stroke="#000" stroke-width="1.4"/>
<line x1="264.25" y1="942.8" x2="264.25" y2="943.8" stroke="#000" stroke-width="1.3"/>
<line x1="261.65" y1="942.8" x2="266.85" y2="942.8" stroke="#000" stroke-width="1.8"/>
<rect x="259.70" y="943.8" width="9.10" height="2.40" fill="#fff" stroke="#000" stroke-width="1.4"/>
<line x1="279.29999999999995" y1="944.2" x2="279.29999999999995" y2="944.8" stroke="#000" stroke-width="1.3"/>
<line x1="276.69999999999993" y1="944.2" x2="281.9" y2="944.2" stroke="#000" stroke-width="1.8"/>
<rect x="275.10" y="944.8" width="8.40" height="1.40" fill="#d8d8d8" stroke="#000" stroke-width="1.4"/>
<line x1="293.95" y1="938.1" x2="293.95" y2="940.5" stroke="#000" stroke-width="1.3"/>
<line x1="291.34999999999997" y1="938.1" x2="296.55" y2="938.1" stroke="#000" stroke-width="1.8"/>
<rect x="289.20" y="940.5" width="9.50" height="5.70" fill="#000" stroke="#000" stroke-width="1.4"/>
<rect x="203.3" y="829.7" width="23.2" height="8.50" fill="#fff" stroke="#000" stroke-width="1.5" rx="0.8"/>
<text x="243.00" y="839.8" font-size="13.63" textLength="43.52" lengthAdjust="spacingAndGlyphs" stroke="#000" stroke-width="0.3">Control</text>
<rect x="203.3" y="846.6" width="23.2" height="8.50" fill="#d8d8d8" stroke="#000" stroke-width="1.5" rx="0.8"/>
<text x="243.00" y="856" font-size="13.63" textLength="146.50" lengthAdjust="spacingAndGlyphs" stroke="#000" stroke-width="0.3">Pellet priming (4 pellets)</text>
<rect x="203.3" y="864.7" width="23.2" height="8.70" fill="#000" stroke="#000" stroke-width="1.5" rx="0.8"/>
<text x="243.00" y="873.6" font-size="13.63" textLength="125.50" lengthAdjust="spacingAndGlyphs" stroke="#000" stroke-width="0.3">Yohimbine (2 mg/kg)</text>
</g>
</svg>
</body></html>
